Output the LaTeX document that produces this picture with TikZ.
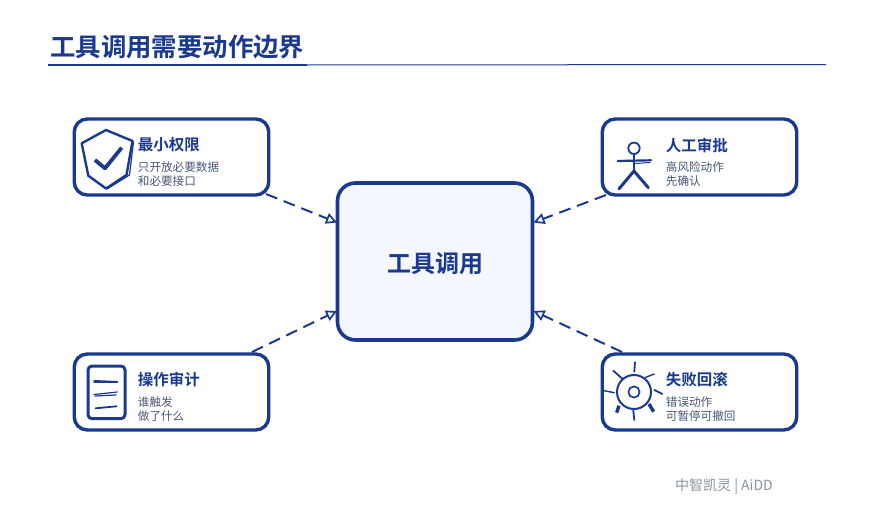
\documentclass[tikz,border=0pt]{standalone}
\usepackage{fontspec}
\setmainfont{Noto Sans CJK SC}[BoldFont={Noto Sans CJK SC Bold}]
\usetikzlibrary{arrows.meta}
\definecolor{navy}{HTML}{1A3A8F}
\definecolor{bodygrey}{HTML}{46557A}
\definecolor{footgrey}{HTML}{8A93A3}
\definecolor{corefill}{HTML}{F4F7FF}
\tikzset{
  x=1pt,y=-1pt,
  card/.style={draw=navy,line width=3.4pt,fill=white,rounded corners=13pt,minimum width=194.5pt,minimum height=76pt,inner sep=0pt},
  core/.style={draw=navy,line width=3.6pt,fill=corefill,rounded corners=18pt,minimum width=195pt,minimum height=157pt,inner sep=0pt,text=navy,font=\fontsize{24}{28}\selectfont\bfseries},
  cardtitle/.style={anchor=west,inner sep=0pt,text=navy,font=\fontsize{15.5}{18}\selectfont\bfseries},
  cardbody/.style={anchor=west,inner sep=0pt,align=left,text=bodygrey,font=\fontsize{11.6}{14}\selectfont},
  link/.style={draw=navy,line width=2pt,dash pattern=on 12pt off 7pt,-{Triangle[open,length=11pt,width=11pt,line width=1.7pt,fill=white]}},
  icon/.style={draw=navy,line width=2pt,line cap=round,line join=round},
  iconthick/.style={icon,line width=3pt},
  iconthin/.style={icon,line width=1pt}
}
\begin{document}
\begin{tikzpicture}
\useasboundingbox (0,0) rectangle (870,522);
\fill[white] (0,0) rectangle (870,522);
% title
\node[anchor=west,inner sep=0pt,text=navy,font=\fontsize{25.4}{30}\selectfont\bfseries] (title) at (50,47.5) {工具调用需要动作边界};
\coordinate (ruleA) at (48,65);
\coordinate (ruleB) at (307,65);
\coordinate (ruleC) at (826,64.5);
\draw[navy,line width=1.6pt] (ruleA) -- (ruleB);
\draw[navy,line width=1pt] (ruleB) -- (ruleC);
% connector ends
\coordinate (a1) at (266,194);
\coordinate (a2) at (337,222.5);
\coordinate (b1) at (606,195);
\coordinate (b2) at (533.5,222.5);
\coordinate (c1) at (252,352);
\coordinate (c2) at (337,311);
\coordinate (d1) at (622,352);
\coordinate (d2) at (533.5,311);
\draw[link] (a1) -- (a2);
\draw[link] (b1) -- (b2);
\draw[link] (c1) -- (c2);
\draw[link] (d1) -- (d2);
% cards
\node[core] (center) at (435,261.5) {};
\node[text=navy,inner sep=0pt,font=\fontsize{24}{28}\selectfont\bfseries] (centertext) at (435,263.5) {工具调用};
\node[card] (tl) at (171.5,157) {};
\node[card] (tr) at (699.5,157) {};
\node[card] (bl) at (171.5,392) {};
\node[card] (br) at (699.5,392) {};
% texts
\node[cardtitle] (tlt) at (137.7,145) {最小权限};
\node[cardbody] (tlb) at (137.7,174) {只开放必要数据\\和必要接口};
\node[cardtitle] (trt) at (665.7,145) {人工审批};
\node[cardbody] (trb) at (665.7,174) {高风险动作\\先确认};
\node[cardtitle] (blt) at (137.7,380) {操作审计};
\node[cardbody] (blb) at (137.7,409) {谁触发\\做了什么};
\node[cardtitle] (brt) at (665.7,380) {失败回滚};
\node[cardbody] (brb) at (665.7,409) {错误动作\\可暂停可撤回};
\node[anchor=east,inner sep=0pt,text=footgrey,font=\fontsize{14}{16}\selectfont] (foot) at (773,487) {中智凯灵 | AiDD};
% shield icon
\draw[icon,line width=2.4pt] (106,130) -- (132.5,141) -- (126.5,175) -- (106,188.5) -- (88.3,175.7) -- (81.7,143.3) -- cycle;
\draw[iconthin,line width=1.2pt] (133.5,142) -- (129.5,175) -- (107,189);
\draw[iconthick,line width=3.8pt,line cap=butt] (95,160) -- (105,168.3) -- (121.7,147.7);
% person icon
\draw[icon,line width=1.8pt] (634,148.3) circle[radius=5.7];
\draw[icon,line width=2pt] (634,154.5) -- (634,171);
\draw[icon,line width=2.2pt] (617.7,161) -- (651,160.3);
\draw[iconthin] (635,163.5) -- (650,162.5);
\draw[iconthick,line width=3pt] (619,188.8) -- (634,171) -- (648.3,187.7);
% document icon
\draw[icon,line width=3pt,rounded corners=4pt] (88,366) rectangle (125,418.7);
\draw[icon,line width=1pt] (94,380.5) -- (117.3,381.5);
\draw[icon,line width=1.6pt] (94,382) -- (117.3,382);
\draw[icon,line width=1.2pt] (94,394.5) -- (117.3,392);
\draw[icon,line width=1.2pt] (95,396) -- (116,395);
\draw[icon,line width=1.8pt] (95.5,408.3) -- (116.5,406.3);
% sun icon
\draw[icon,line width=2pt] (634,392) circle[radius=17];
\draw[icon,line width=1.7pt] (634,392) circle[radius=5.6];
\draw[icon,line width=1.8pt] (635,362.3) -- (634.3,371.7);
\draw[icon,line width=1.8pt] (613.3,370.7) -- (622.3,378.7);
\draw[icon,line width=1.4pt] (645.7,377.3) -- (654.3,374);
\draw[icon,line width=1.4pt] (604.3,390.7) -- (614.3,392.7);
\draw[icon,line width=1.8pt] (654.3,390) -- (662.3,394);
\draw[iconthick,line width=3.4pt,line cap=butt] (619,405.7) -- (616.7,412.7);
\draw[iconthick,line width=3.4pt,line cap=butt] (649,404) -- (653.7,411.7);
\draw[icon,line width=1.8pt] (633.3,410.7) -- (634.3,420);
\end{tikzpicture}
\end{document}
